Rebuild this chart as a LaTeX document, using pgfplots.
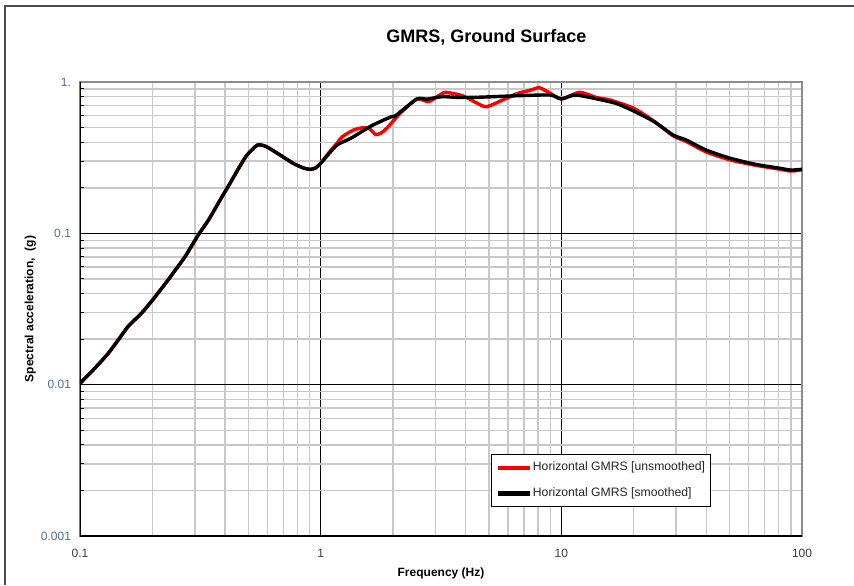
\documentclass[border=0pt]{standalone}
\usepackage{fontspec}
\setmainfont{Liberation Sans}
\usepackage{pgfplots}
\usepackage{pgfplotstable}
\pgfplotsset{compat=1.18}
\definecolor{gridgray}{RGB}{200,200,200}
\definecolor{ylab}{RGB}{80,110,150}
\definecolor{xlab}{RGB}{60,60,60}
\pgfplotstableread{
f a
0.1 0.0102
0.115 0.0128
0.131 0.0161
0.145 0.0200
0.159 0.0244
0.18 0.0296
0.2 0.0362
0.225 0.046
0.249 0.0572
0.273 0.070
0.31 0.0975
0.342 0.1225
0.382 0.166
0.42 0.214
0.46 0.275
0.494 0.329
0.546 0.383
0.595 0.374
0.679 0.329
0.77 0.290
0.85 0.270
0.905 0.265
0.95 0.270
1.0 0.290
1.08 0.335
1.17 0.384
1.29 0.414
1.37 0.435
1.6 0.507
1.8 0.555
1.97 0.590
2.05 0.600
2.51 0.772
2.75 0.770
3.2 0.800
3.8 0.790
4.7 0.795
6.6 0.812
9.0 0.820
10 0.775
11.5 0.820
14.8 0.760
17 0.720
20 0.643
24.3 0.547
29.2 0.446
33 0.414
40 0.355
50.5 0.313
64 0.286
80 0.270
90 0.262
100 0.265
}\smoothed
\pgfplotstableread{
f a
0.1 0.0102
0.115 0.0128
0.131 0.0161
0.145 0.0200
0.159 0.0244
0.18 0.0296
0.2 0.0362
0.225 0.046
0.249 0.0572
0.273 0.070
0.31 0.0975
0.342 0.1225
0.382 0.166
0.42 0.214
0.46 0.275
0.494 0.329
0.546 0.383
0.595 0.374
0.679 0.329
0.77 0.290
0.85 0.270
0.905 0.265
0.95 0.270
1.0 0.290
1.08 0.340
1.17 0.395
1.23 0.435
1.37 0.482
1.5 0.499
1.6 0.490
1.69 0.450
1.78 0.460
1.88 0.494
2.14 0.621
2.51 0.772
2.8 0.741
3.05 0.800
3.3 0.855
3.8 0.820
4.05 0.790
4.5 0.720
4.9 0.687
5.7 0.760
6.6 0.842
7.4 0.880
8.1 0.917
9.0 0.842
10 0.772
11.9 0.855
14 0.790
16 0.760
20 0.670
24.3 0.550
29.2 0.440
33 0.405
40 0.345
50.5 0.305
64 0.282
80 0.266
90 0.258
100 0.263
}\unsmoothed
\begin{document}
\begin{tikzpicture}
\useasboundingbox (0,0) rectangle (427pt,292.5pt);
\draw[black!70, line width=0.6pt] (2.5pt,0) -- (2.5pt,289.5pt) -- (427pt,289.5pt);
\begin{axis}[
  at={(40pt,24.5pt)}, anchor=south west,
  scale only axis, width=361pt, height=227pt,
  xmode=log, ymode=log,
  xmin=0.1, xmax=100, ymin=0.001, ymax=1,
  xtick={0.1,1,10,100}, xticklabels={0.1,1,10,100},
  ytick={0.001,0.01,0.1,1}, yticklabels={0.001,0.01,0.1,1.},
  minor xtick={0.2,0.3,0.4,0.5,0.6,0.7,0.8,0.9,2,3,4,5,6,7,8,9,20,30,40,50,60,70,80,90},
  minor ytick={0.002,0.003,0.004,0.005,0.006,0.007,0.008,0.009,0.02,0.03,0.04,0.05,0.06,0.07,0.08,0.09,0.2,0.3,0.4,0.5,0.6,0.7,0.8,0.9},
  grid=both,
  major grid style={black, line width=0.5pt},
  minor grid style={gridgray, line width=0.7pt},
  axis line style={gridgray!70!black, line width=0.6pt},
  xtick style={draw=none},
  ytick style={black, line width=0.5pt},
  ytick pos=left,
  major tick length=0pt, minor tick length=2pt,
  /pgf/number format/assume math mode=true,
  xticklabel style={font=\fontsize{6}{7}\selectfont, text=xlab, yshift=-3pt},
  yticklabel style={font=\fontsize{6}{7}\selectfont, text=ylab, xshift=-1pt},
  title={GMRS, Ground Surface},
  title style={font=\fontsize{9}{10}\selectfont\bfseries, at={(0.563,1.072)}, anchor=center},
  xlabel={Frequency (Hz)},
  xlabel style={font=\fontsize{6}{7}\selectfont\bfseries, at={(0.5,-0.083)}, anchor=center},
  ylabel={Spectral acceleration,\ \ (g)},
  ylabel style={font=\fontsize{6}{7}\selectfont\bfseries, at={(-0.069,0.5)}, anchor=center},
  legend cell align=left,
  legend style={at={(0.569,0.064)}, anchor=south west, font=\fontsize{6.1}{7.2}\selectfont, text=black!85, draw=black, line width=0.5pt, inner xsep=2pt, inner ysep=1.5pt, row sep=3pt, nodes={inner xsep=0.6pt}},
  legend image code/.code={\draw[#1, line width=2.2pt] (0pt,0pt) -- (16pt,0pt);},
]
\addplot[red, line width=1.7pt, smooth, tension=0.4] table[x=f, y=a] {\unsmoothed};
\addlegendentry{Horizontal GMRS [unsmoothed]}
\addplot[black, line width=1.7pt, smooth, tension=0.4] table[x=f, y=a] {\smoothed};
\addlegendentry{Horizontal GMRS [smoothed]}
\draw[black, line width=0.7pt] (rel axis cs:0,1) -- (rel axis cs:0,0) -- (rel axis cs:1,0);
\end{axis}
\end{tikzpicture}
\end{document}
